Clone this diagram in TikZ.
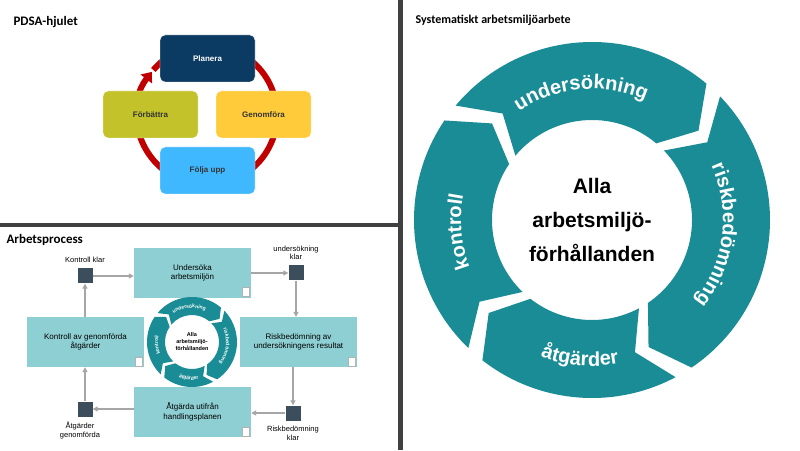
\documentclass[tikz,border=0pt]{standalone}
\usepackage{fontspec}
\setmainfont{Liberation Sans}
\newfontfamily\titlefont{Carlito}
\usetikzlibrary{positioning,arrows.meta,decorations.text}

\definecolor{pdsared}{HTML}{C00000}
\definecolor{planblue}{HTML}{0B3A62}
\definecolor{oliveg}{HTML}{C3C22A}
\definecolor{sunny}{HTML}{FFCB3A}
\definecolor{skyblue}{HTML}{40B8FF}
\definecolor{boxteal}{HTML}{8ECFD3}
\definecolor{wheelteal}{HTML}{1A8C95}
\definecolor{slate}{HTML}{3C4D5C}
\definecolor{framegray}{HTML}{404040}

\tikzset{
  pdsabox/.style={rounded corners=5pt,draw=white,minimum width=95pt,minimum height=47pt,
    font=\fontsize{8}{9}\selectfont\bfseries,text=black!80},
  procbox/.style={fill=boxteal,minimum width=117pt,minimum height=50pt,align=center,
    font=\fontsize{8}{9.5}\selectfont},
  milestone/.style={fill=slate,minimum size=15pt,inner sep=0pt},
  milelabel/.style={align=center,font=\fontsize{7.5}{8.5}\selectfont},
  flow/.style={draw=gray!70,line width=1.2pt,-{Triangle[length=5pt,width=5pt]}},
  docicon/.style={draw=gray!60,fill=white,minimum width=7pt,minimum height=9pt,inner sep=0pt},
  titletext/.style={anchor=west,font=\titlefont\bfseries\fontsize{13}{15}\selectfont}
}

% one arrow shaped piece of a ring: centre, outer r, inner r, start, end, tip
\newcommand{\ringseg}[6]{%
  \pgfmathsetmacro\rmid{(#2+#3)/2}%
  \pgfmathsetmacro\tipang{#5-#6}%
  \pgfmathsetmacro\notchang{#4-#6}%
  \fill[wheelteal] ([shift={(#1)}]#4:#2) arc[start angle=#4,end angle=#5,radius=#2]
    -- ([shift={(#1)}]\tipang:\rmid) -- ([shift={(#1)}]#5:#3)
    arc[start angle=#5,end angle=#4,radius=#3] -- ([shift={(#1)}]\notchang:\rmid) -- cycle;}

% text along an arc of a ring: centre, radius, start, end, size, text
\newcommand{\ringtext}[6]{%
  \path[decorate,decoration={text along path,text align=center,text color=white,
    text={|\fontsize{#5}{#5}\selectfont\bfseries|#6}}]
    ([shift={(#1)}]#3:#2) arc[start angle=#3,end angle=#4,radius=#2];}

\begin{document}
\begin{tikzpicture}[x=1pt,y=1pt]
  \useasboundingbox[fill=white] (0,0) rectangle (800,450);
  %
  % PDSA-hjulet
  \node[titletext] (pdsatitle) at (10,428) {PDSA-hjulet};
  \coordinate (pdsac) at (207,335);
  \draw[pdsared,line width=6pt,-{Triangle[length=9pt,width=14pt]}]
    ([shift={(pdsac)}]500:70) arc[start angle=500,end angle=142,radius=70];
  \node[pdsabox,fill=planblue,text=white] (planera) at (207.5,391.5) {Planera};
  \node[pdsabox,fill=oliveg] (forbattra) at (150.5,335.5) {Förbättra};
  \node[pdsabox,fill=sunny] (genomfora) at (263.5,335.5) {Genomföra};
  \node[pdsabox,fill=skyblue] (folja) at (207.5,279.5) {Följa upp};
  %
  % Arbetsprocess
  \node[titletext] (proctitle) at (3,210) {Arbetsprocess};
  \node[procbox] (unders) at (192.5,177) {Undersöka\\arbetsmiljön};
  \node[procbox] (kontr) at (85.5,108) {Kontroll av genomförda\\åtgärder};
  \node[procbox] (risk) at (298.5,108) {Riskbedömning av\\undersökningens resultat};
  \node[procbox] (atg) at (192.5,38) {Åtgärda utifrån\\handlingsplanen};
  \foreach \b in {unders,kontr,risk,atg}
    \node[docicon] at ([shift={(-6,6)}]\b.south east) {};
  \node[milestone] (kk) at (85,174) {};
  \node[milestone] (uk) at (296,177) {};
  \node[milestone] (rk) at (293,37) {};
  \node[milestone] (ag) at (85,41) {};
  \node[milelabel,above=2pt of kk] {Kontroll klar};
  \node[milelabel,above=2pt of uk] {undersökning\\klar};
  \node[milelabel,below=2pt of rk] {Riskbedömning\\klar};
  \node[milelabel,below=2pt of ag,xshift=-5pt] {Åtgärder\\genomförda};
  \draw[flow] (kk) -- (kk -| unders.west);
  \draw[flow] (unders.east |- uk) -- (uk);
  \draw[flow] (uk) -- (uk |- risk.north);
  \draw[flow] (risk.south -| rk) -- (rk);
  \draw[flow] (rk) -- (rk -| atg.east);
  \draw[flow] (atg.west |- ag) -- (ag);
  \draw[flow] (ag) -- (ag |- kontr.south);
  \draw[flow] (kontr.north -| kk) -- (kk);
  % small wheel
  \coordinate (smallc) at (192,108);
  \ringseg{smallc}{45}{27}{140}{50}{10}
  \ringseg{smallc}{45}{27}{44}{-56}{10}
  \ringseg{smallc}{45}{27}{-62}{-128}{10}
  \ringseg{smallc}{45}{27}{-134}{-214}{10}
  \ringtext{smallc}{34}{135}{55}{5}{undersökning}
  \ringtext{smallc}{34}{36}{-50}{5}{riskbedömning}
  \ringtext{smallc}{38}{-125}{-65}{5}{åtgärder}
  \ringtext{smallc}{34}{-145}{-205}{5}{kontroll}
  \node[align=center,font=\fontsize{5.5}{7}\selectfont\bfseries] (smallmid) at (smallc)
    {Alla\\arbetsmiljö-\\förhållanden};
  %
  % Systematiskt arbetsmiljöarbete
  \node[titletext,font=\titlefont\bfseries\fontsize{12}{14}\selectfont] (sysname) at (412,430)
    {Systematiskt arbetsmiljöarbete};
  \coordinate (bigc) at (592,230);
  \ringseg{bigc}{178}{100}{140}{50}{10}
  \ringseg{bigc}{178}{100}{44}{-56}{10}
  \ringseg{bigc}{178}{100}{-62}{-128}{10}
  \ringseg{bigc}{178}{100}{-134}{-214}{10}
  \ringtext{bigc}{131}{135}{55}{20}{undersökning}
  \ringtext{bigc}{131}{36}{-50}{20}{riskbedömning}
  \ringtext{bigc}{146}{-125}{-65}{20}{åtgärder}
  \ringtext{bigc}{131}{-145}{-205}{20}{kontroll}
  \node[align=center,font=\fontsize{21}{34}\selectfont\bfseries] (bigmid) at (bigc)
    {Alla\\arbetsmiljö-\\förhållanden};
  %
  % frames
  \draw[framegray,line width=4pt] (0,225) -- (400,225);
  \draw[framegray,line width=5pt] (400,0) -- (400,450);
\end{tikzpicture}
\end{document}
